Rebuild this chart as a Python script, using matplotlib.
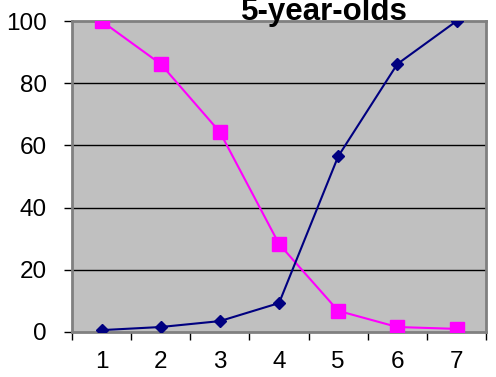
import matplotlib
matplotlib.use("Agg")
import matplotlib.pyplot as plt

plt.rcParams['font.family'] = ['Liberation Sans', 'DejaVu Sans']

ages = [1, 2, 3, 4, 5, 6, 7]
navy_vals = [0.6, 1.6, 3.5, 9.3, 56.5, 86.2, 100]
pink_vals = [100, 86.2, 64.3, 28.3, 6.8, 1.6, 1.0]

fig = plt.figure(figsize=(4.96, 3.77), dpi=100)
ax = fig.add_axes([0.1452, 0.1194, 0.8348, 0.8246])
ax.set_facecolor("#C0C0C0")

ax.plot(ages, pink_vals, color="#FF00FF", lw=1.5, marker="s", ms=10, zorder=3)
ax.plot(ages, navy_vals, color="#000080", lw=1.5, marker="D", ms=6.5, zorder=4)

ax.set_xlim(0.5, 7.5)
ax.set_ylim(0, 100)
ax.set_yticks([0, 20, 40, 60, 80, 100])
ax.set_xticks([x + 0.5 for x in [0] + ages], minor=False)
ax.set_xticklabels([])
ax.set_xticks(ages, minor=True)
ax.set_xticklabels([str(a) for a in ages], minor=True)
ax.tick_params(axis="x", which="minor", length=0, pad=14, labelsize=17.5)
ax.tick_params(axis="x", which="major", length=6, width=1, color="#000000", direction="out")
ax.tick_params(axis="y", length=6, width=1, pad=12, labelsize=17.5, direction="out")

for y in [20, 40, 60, 80]:
    ax.axhline(y, color="black", lw=1, zorder=1)

for s in ax.spines.values():
    s.set_color("#808080")
    s.set_linewidth(2)

fig.text(0.655, (377 - 20) / 377, "5-year-olds", ha="center", va="baseline",
         fontsize=22.5, fontweight="bold")

fig.savefig("out.png", dpi=100)
